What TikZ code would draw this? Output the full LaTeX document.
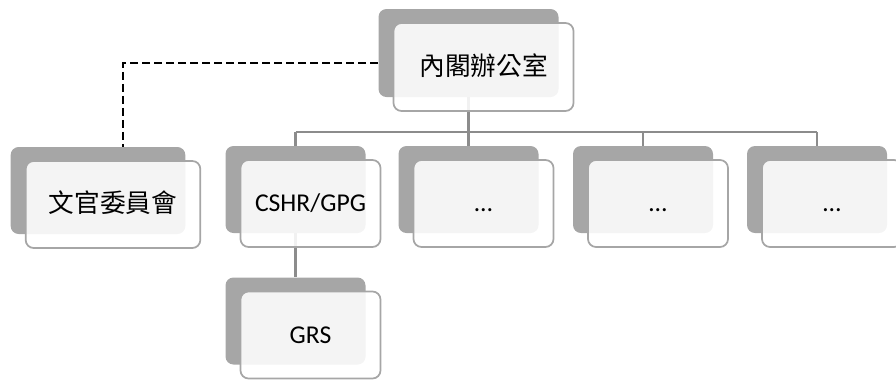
\documentclass[tikz,border=0pt]{standalone}
\usepackage{fontspec}
\setmainfont{Carlito}
\newfontfamily\cjk{Noto Sans CJK TC}
\usetikzlibrary{backgrounds}
\definecolor{shadegray}{HTML}{A6A6A6}
\definecolor{linegray}{HTML}{8C8C8C}
\tikzset{
  back/.style={fill=shadegray, rounded corners=6pt, inner sep=0pt,
    minimum width=105pt, minimum height=65.25pt},
  front/.style={draw=shadegray, line width=1.3pt, fill=white, fill opacity=0.88,
    text opacity=1, rounded corners=6pt, inner sep=0pt,
    minimum width=105pt, minimum height=65.25pt,
    text height=12pt, text depth=0pt,
    font=\fontsize{19.25}{22}\selectfont},
  conn/.style={draw=linegray, line width=1.6pt},
  link/.style={draw=black, line width=1.5pt, dash pattern=on 6pt off 3pt}
}
\begin{document}
\begin{tikzpicture}[x=0.75pt, y=-0.75pt]
  \useasboundingbox (0,0) rectangle (896,380);
  % boxes: gray back plate, lighter front card
  \node[back, minimum width=135pt, minimum height=66pt] (b0) at (468.5,53) {};
  \node[front, minimum width=135pt, minimum height=66pt] (f0) at ([shift={(15,14)}]b0.center) {\cjk 內閣辦公室};
  \node[back, minimum width=131pt] (b1) at (98,190.5) {};
  \node[front, minimum width=131pt] (f1) at ([shift={(15,14)}]b1.center) {\cjk 文官委員會};
  \node[back] (b2) at (295.5,189.5) {};
  \node[front] (f2) at ([shift={(15,14)}]b2.center) {CSHR/GPG};
  \node[back] (b3) at (468.5,189.5) {};
  \node[front] (f3) at ([shift={(15,14)}]b3.center) {…};
  \node[back] (b4) at (643,189.5) {};
  \node[front] (f4) at ([shift={(15,14)}]b4.center) {…};
  \node[back] (b5) at (817,189.5) {};
  \node[front] (f5) at ([shift={(15,14)}]b5.center) {…};
  \node[back] (b6) at (295.5,321) {};
  \node[front] (f6) at ([shift={(15,14)}]b6.center) {GRS};
  \coordinate (bus) at (0,132);
  \coordinate (dcorner) at (123,63);
  \begin{pgfonlayer}{background}
    \draw[conn] (b2.north |- bus) -- (b5.north |- bus);
    \draw[conn] (b0.south) -- (b3.north);
    \draw[conn] (b2.north) -- (b2.north |- bus);
    \draw[conn] (b4.north) -- (b4.north |- bus);
    \draw[conn] (b5.north) -- (b5.north |- bus);
    \draw[conn] (b2.south) -- (b6.north);
    \draw[link] (b0.west |- dcorner) -- (dcorner) -- (dcorner |- b1.north);
  \end{pgfonlayer}
\end{tikzpicture}
\end{document}
